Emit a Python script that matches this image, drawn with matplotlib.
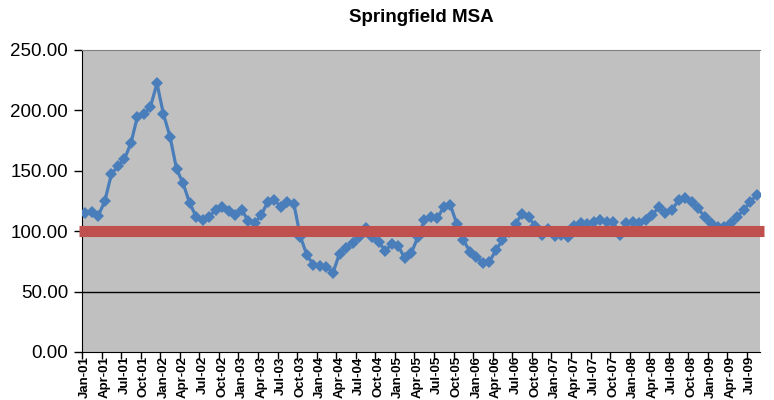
import numpy as np
import pandas as pd
import matplotlib
matplotlib.use('Agg')
import matplotlib.pyplot as plt

# monthly index values, Jan-01 .. Aug-09
months = list(pd.date_range('2001-01-01', periods=104, freq='MS').strftime('%b-%y'))
values = [
    114.8, 116.0, 112.8, 125.0, 147.0, 154.0, 159.5, 172.8, 194.8, 196.8, 203.0, 222.4,  # 2001
    196.8, 178.3, 151.7, 139.6, 123.6, 112.0, 109.3, 112.0, 117.5, 120.3, 116.7, 113.4,  # 2002
    117.5, 108.7, 107.0, 113.4, 124.4, 125.8, 120.3, 124.4, 122.5, 95.4, 80.3, 72.0,     # 2003
    71.4, 70.6, 65.6, 81.5, 86.5, 90.0, 95.5, 103.0, 95.5, 91.3, 84.0, 89.0,             # 2004
    88.0, 77.6, 81.7, 95.0, 109.0, 112.0, 110.6, 120.3, 121.7, 106.0, 92.7, 83.0,        # 2005
    78.9, 73.4, 74.7, 84.4, 92.7, 99.0, 106.0, 114.5, 112.0, 104.0, 97.0, 102.0,         # 2006
    96.0, 97.0, 95.5, 104.0, 106.5, 106.0, 108.0, 109.3, 108.0, 107.5, 97.0, 106.5,      # 2007
    107.9, 106.5, 109.3, 113.4, 120.3, 114.8, 117.5, 125.8, 127.2, 124.4, 118.9, 112.0,  # 2008
    106.5, 103.7, 103.7, 106.5, 112.0, 117.5, 124.4, 130.0,                              # 2009
]
baseline = 100.0
y_ticks = [0, 50, 100, 150, 200, 250]

plt.rcParams['font.family'] = ['Liberation Sans', 'DejaVu Sans']

fig = plt.figure(figsize=(7.74, 4.0), dpi=100)
ax = fig.add_axes([82 / 774, 1 - 352 / 400, (760 - 82) / 774, (352 - 50) / 400])
ax.set_facecolor('#C0C0C0')

x = np.arange(len(values))
ax.plot(x, values, color='#4A7EBB', linewidth=2.3, marker='D', markersize=6,
        markeredgewidth=0, zorder=3)

# reference line at 100, drawn over the series
ax.axhline(baseline, xmin=-0.004, xmax=1.006, color='#C0504D', linewidth=8,
           solid_capstyle='butt', zorder=4, clip_on=False)
ax.axhline(50, color='black', linewidth=1, zorder=2)

ax.set_xlim(-0.5, len(values) - 0.5)
ax.set_ylim(0, 250)
ax.set_yticks(y_ticks)
ax.set_yticklabels([f'{v:.2f}' for v in y_ticks], fontsize=13.5)
ax.tick_params(axis='y', direction='out', length=6, width=1, pad=4)

# tick marks between categories, labels on every third month
ax.set_xticks(np.arange(-0.5, len(values), 3))
ax.set_xticklabels([])
ax.tick_params(axis='x', which='major', direction='out', length=5, width=1)
ax.set_xticks(np.arange(0, len(values), 3), minor=True)
ax.set_xticklabels(months[::3], minor=True, rotation=90, fontsize=9.5, fontweight='bold')
ax.tick_params(axis='x', which='minor', length=0, pad=3)

for side in ['left', 'bottom']:
    ax.spines[side].set_color('black')
ax.spines['top'].set_color('#808080')
ax.spines['right'].set_visible(False)

fig.text(421 / 774, 1 - 17 / 400, 'Springfield MSA', ha='center', va='center',
         fontsize=13.5, fontweight='bold')

fig.savefig('out.png', dpi=100)
